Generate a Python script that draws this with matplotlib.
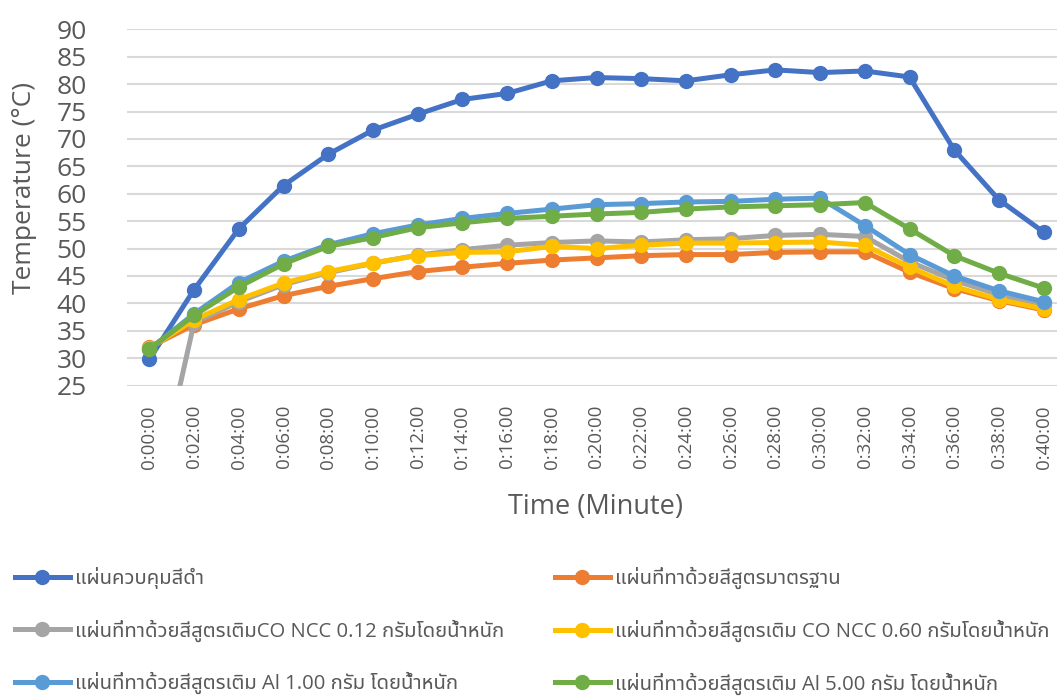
import matplotlib
matplotlib.use("Agg")
import matplotlib.pyplot as plt
from matplotlib import font_manager, ft2font
from matplotlib.lines import Line2D

# Pick a font that can draw Thai, fall back to it after the Latin font
def find_thai_family():
    found = []
    for f in font_manager.fontManager.ttflist:
        try:
            cmap = ft2font.FT2Font(f.fname).get_charmap()
        except Exception:
            continue
        if 0x0E41 in cmap and 0x0E33 in cmap and 0x0E48 in cmap:
            found.append(f.name)
    if not found:
        return None
    for pref in ("Noto Sans Thai", "Noto Sans Thai UI", "Loma", "Garuda", "Tlwg Typo"):
        if pref in found:
            return pref
    return found[0]

thai = find_thai_family()
families = ["Open Sans"] + ([thai] if thai else []) + ["DejaVu Sans"]
plt.rcParams["font.family"] = families

# Time axis (every 2 minutes)
times = [f"0:{m:02d}:00" for m in range(0, 41, 2)]

black_control = [29.8, 42.5, 53.6, 61.5, 67.2, 71.6, 74.5, 77.2, 78.3, 80.6, 81.2,
                 81.0, 80.6, 81.7, 82.6, 82.1, 82.4, 81.3, 68.0, 58.9, 53.0]
standard = [32.0, 36.1, 39.0, 41.4, 43.1, 44.5, 45.8, 46.6, 47.3, 47.9, 48.3,
            48.7, 48.9, 48.9, 49.3, 49.4, 49.4, 45.7, 42.7, 40.5, 38.8]
co_ncc_012 = [0.0, 36.5, 40.3, 43.4, 45.6, 47.3, 48.8, 49.8, 50.6, 51.1, 51.4,
              51.2, 51.6, 51.8, 52.4, 52.6, 52.2, 47.6, 44.2, 41.6, 39.6]
co_ncc_060 = [31.8, 37.0, 40.7, 43.7, 45.8, 47.4, 48.7, 49.3, 49.4, 50.4, 50.0,
              50.6, 51.0, 51.0, 51.1, 51.2, 50.6, 46.6, 43.1, 40.7, 39.0]
al_100 = [31.6, 38.1, 43.8, 47.7, 50.7, 52.7, 54.3, 55.5, 56.4, 57.2, 58.0,
          58.2, 58.5, 58.6, 59.0, 59.2, 54.2, 48.9, 45.0, 42.3, 40.3]
al_500 = [31.7, 37.8, 43.0, 47.2, 50.4, 52.0, 53.8, 54.7, 55.5, 55.9, 56.3,
          56.6, 57.2, 57.6, 57.8, 58.0, 58.4, 53.6, 48.7, 45.5, 42.8]

labels = [
    "แผ่นควบคุมสีดำ",
    "แผ่นที่ทาด้วยสีสูตรมาตรฐาน",
    "แผ่นที่ทาด้วยสีสูตรเติมCO NCC 0.12 กรัมโดยน้ำหนัก",
    "แผ่นที่ทาด้วยสีสูตรเติม CO NCC 0.60 กรัมโดยน้ำหนัก",
    "แผ่นที่ทาด้วยสีสูตรเติม Al 1.00 กรัม โดยน้ำหนัก",
    "แผ่นที่ทาด้วยสีสูตรเติม Al 5.00 กรัม โดยน้ำหนัก",
]
series = [black_control, standard, co_ncc_012, co_ncc_060, al_100, al_500]
colors = ["#4472C4", "#ED7D31", "#A5A5A5", "#FFC000", "#5B9BD5", "#70AD47"]

text_color = "#595959"
grid_color = "#D9D9D9"

fig = plt.figure(figsize=(10.57, 6.98), dpi=100)
ax = fig.add_axes([127 / 1057, 1 - 385.6 / 698, 939 / 1057, 356.3 / 698])

x = list(range(len(times)))
for vals, c in zip(series, colors):
    ax.plot(x, vals, color=c, linewidth=3.6, marker="o", markersize=10,
            solid_joinstyle="round", solid_capstyle="round")

ax.set_xlim(-0.5, len(times) - 0.5)
ax.set_ylim(25, 90)
ax.set_yticks(range(25, 91, 5))
ax.set_xticks(x)
ax.set_xticklabels(times, rotation=90, va="top")
ax.tick_params(axis="x", length=0, pad=14, labelsize=13.5, labelcolor=text_color)
ax.tick_params(axis="y", length=0, pad=29, labelsize=19, labelcolor=text_color)

ax.grid(axis="y", color=grid_color, linewidth=1.5)
ax.set_axisbelow(True)
for s in ax.spines.values():
    s.set_visible(False)

fig.text(25 / 1057, 1 - 188 / 698, "Temperature (°C)", rotation=90,
         ha="center", va="center", fontsize=19, color=text_color)
fig.text(596 / 1057, 1 - 507 / 698, "Time (Minute)",
         ha="center", va="center", fontsize=19.5, color=text_color)

# Legend: two columns, Excel row-major order
handles = [Line2D([], [], color=c, linewidth=3.6, marker="o", markersize=10)
           for c in colors]
common = dict(frameon=False, fontsize=14.6, labelspacing=1.5, handlelength=2.7,
              handletextpad=0.25, borderpad=0, borderaxespad=0, loc="upper left",
              labelcolor=text_color)
fig.legend(handles[0::2], labels[0::2], bbox_to_anchor=(15 / 1057, 1 - 567 / 698), **common)
fig.legend(handles[1::2], labels[1::2], bbox_to_anchor=(555 / 1057, 1 - 567 / 698), **common)

fig.savefig("out.png", dpi=100)
